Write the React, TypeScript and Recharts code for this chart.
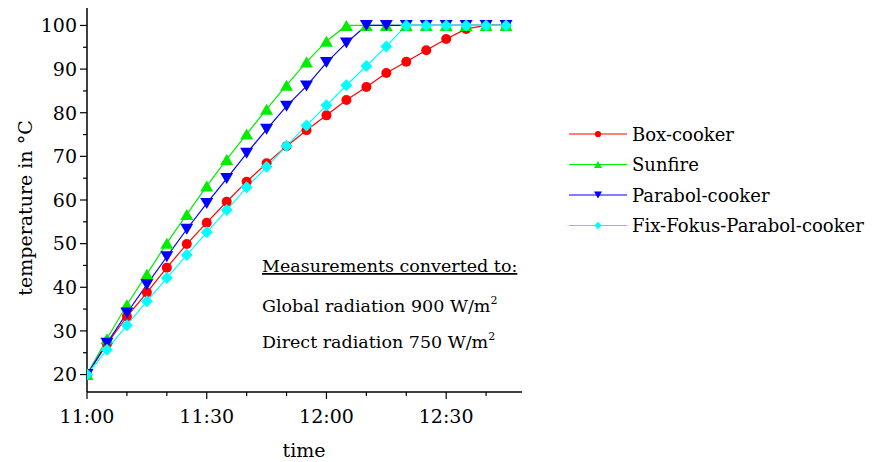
import { Line, LineChart, XAxis, YAxis } from "recharts";

// minutes after 11:00
const minutes = [0, 5, 10, 15, 20, 25, 30, 35, 40, 45, 50, 55, 60, 65, 70, 75, 80, 85, 90, 95, 100, 105];

const boxCooker = [20, 27, 33.3, 38.8, 44.5, 49.9, 54.8, 59.6, 64.2, 68.4, 72.3, 76.0, 79.4, 82.9, 85.9, 89.1, 91.7, 94.3, 96.9, 99.2, 100, 100];
const sunfire = [20, 28.2, 36.0, 43.0, 50.1, 56.7, 63.2, 69.3, 75.1, 80.8, 86.3, 91.6, 96.4, 100, 100, 100, 100, 100, 100, 100, 100, 100];
const parabolCooker = [20, 27.2, 34.1, 40.6, 47.0, 53.3, 59.2, 64.9, 70.7, 76.2, 81.5, 86.1, 91.5, 96.0, 100, 100, 100, 100, 100, 100, 100, 100];
const fixFokus = [20, 25.7, 31.3, 36.8, 42.1, 47.4, 52.6, 57.7, 62.9, 67.6, 72.4, 77.1, 81.7, 86.3, 90.7, 95.2, 100, 100, 100, 100, 100, 100];

const yTicks = [20, 25, 30, 35, 40, 45, 50, 55, 60, 65, 70, 75, 80, 85, 90, 95, 100];
const xTicks = [0, 10, 20, 30, 40, 50, 60, 70, 80, 90, 100];
const xLabelAt = [0, 30, 60, 90];
const xLabels = ["11:00", "11:30", "12:00", "12:30"];

const FONT = '"DejaVu Serif", "Liberation Serif", serif';
const FS = 19;

const data = minutes.map((m, i) => ({
  t: m,
  box: boxCooker[i],
  sun: sunfire[i],
  para: parabolCooker[i],
  fix: fixFokus[i],
}));

type Shape = "circle" | "up" | "down" | "diamond";

const series: { key: string; name: string; color: string; shape: Shape }[] = [
  { key: "box", name: "Box-cooker", color: "#ff0000", shape: "circle" },
  { key: "sun", name: "Sunfire", color: "#00ee00", shape: "up" },
  { key: "para", name: "Parabol-cooker", color: "#0000ff", shape: "down" },
  { key: "fix", name: "Fix-Fokus-Parabol-cooker", color: "#00ffff", shape: "diamond" },
];

function Marker({ cx, cy, shape, color, s = 1 }: { cx: number; cy: number; shape: Shape; color: string; s?: number }) {
  if (shape === "circle") return <circle cx={cx} cy={cy} r={5 * s} fill={color} />;
  if (shape === "up") {
    const p = `${cx},${cy - 5.5 * s} ${cx + 6.5 * s},${cy + 5.5 * s} ${cx - 6.5 * s},${cy + 5.5 * s}`;
    return <polygon points={p} fill={color} />;
  }
  if (shape === "down") {
    const p = `${cx},${cy + 5.5 * s} ${cx + 6.5 * s},${cy - 5.5 * s} ${cx - 6.5 * s},${cy - 5.5 * s}`;
    return <polygon points={p} fill={color} />;
  }
  const p = `${cx},${cy - 6 * s} ${cx + 6 * s},${cy} ${cx},${cy + 6 * s} ${cx - 6 * s},${cy}`;
  return <polygon points={p} fill={color} />;
}

function YTick(props: any) {
  const { x, y, payload } = props;
  const major = payload.value % 10 === 0;
  return (
    <g>
      <line x1={x - (major ? 7 : 4)} x2={x} y1={y} y2={y} stroke="#000" strokeWidth={1.2} />
      {major && (
        <text x={x - 10} y={y} dy="0.36em" textAnchor="end" fontSize={FS} style={{ fontFamily: FONT }} fill="#000">
          {payload.value}
        </text>
      )}
    </g>
  );
}

function XTick(props: any) {
  const { x, y, payload } = props;
  const idx = xLabelAt.indexOf(payload.value);
  const major = idx >= 0;
  return (
    <g>
      <line x1={x} x2={x} y1={y} y2={y + (major ? 7 : 4)} stroke="#000" strokeWidth={1.2} />
      {major && (
        <text x={x} y={y + 31} textAnchor="middle" fontSize={FS} style={{ fontFamily: FONT }} fill="#000">
          {xLabels[idx]}
        </text>
      )}
    </g>
  );
}

export default function App() {
  return (
    <div style={{ position: "absolute", left: 0, top: 0, width: 876, height: 462, background: "#fff" }}>
      <LineChart width={876} height={462} data={data} margin={{ top: 8, left: 0, right: 354, bottom: 0 }}>
        <XAxis
          dataKey="t"
          type="number"
          domain={[0, 109]}
          ticks={xTicks}
          interval={0}
          height={70}
          tickSize={0}
          tickMargin={0}
          tickLine={false}
          tick={<XTick />}
          axisLine={{ stroke: "#000", strokeWidth: 1.5 }}
          allowDataOverflow
        />
        <YAxis
          type="number"
          domain={[16, 104]}
          ticks={yTicks}
          interval={0}
          width={87}
          tickSize={0}
          tickMargin={0}
          tickLine={false}
          tick={<YTick />}
          axisLine={{ stroke: "#000", strokeWidth: 1.5 }}
          allowDataOverflow
        />
        {series.map((s) => (
          <Line
            key={s.key}
            dataKey={s.key}
            name={s.name}
            type="linear"
            stroke={s.color}
            strokeWidth={1.2}
            isAnimationActive={false}
            activeDot={false}
            dot={(p: any) => <Marker key={`${s.key}-${p.index}`} cx={p.cx} cy={p.cy} shape={s.shape} color={s.color} />}
          />
        ))}
      </LineChart>
      <svg width={876} height={462} style={{ position: "absolute", left: 0, top: 0, pointerEvents: "none", fontFamily: FONT }}>
        <text x={32} y={208} transform="rotate(-90, 32, 208)" textAnchor="middle" fontSize={FS} fill="#000">
          temperature in °C
        </text>
        <text x={304} y={457} textAnchor="middle" fontSize={FS} fill="#000">
          time
        </text>
        <g fontSize={17.5} fill="#000">
          <text x={262} y={272} style={{ textDecoration: "underline" }}>
            Measurements converted to:
          </text>
          <text x={262} y={312}>
            Global radiation 900 W/m<tspan dy={-8} fontSize={11}>2</tspan>
          </text>
          <text x={262} y={348}>
            Direct radiation 750 W/m<tspan dy={-8} fontSize={11}>2</tspan>
          </text>
        </g>
        {series.map((s, i) => {
          const y = 134 + i * 30.5;
          return (
            <g key={s.key}>
              <line x1={569} x2={627} y1={y} y2={y} stroke={s.color} strokeWidth={1.2} />
              <Marker cx={598} cy={y} shape={s.shape} color={s.color} s={0.62} />
              <text x={632} y={y + 6.5} fontSize={18} fill="#000">
                {s.name}
              </text>
            </g>
          );
        })}
      </svg>
    </div>
  );
}
